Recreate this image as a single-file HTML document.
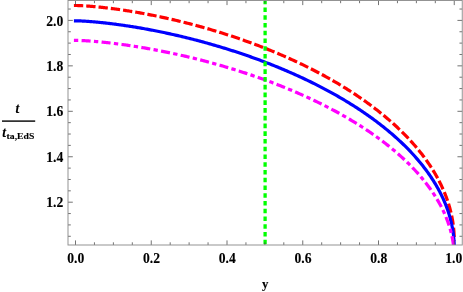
<!DOCTYPE html>
<html><head><meta charset="utf-8"><title>plot</title>
<style>
html,body{margin:0;padding:0;background:#fff;}
body{width:463px;height:292px;overflow:hidden;}
svg{display:block;}
text{font-family:"Liberation Serif",serif;font-weight:bold;font-size:13.6px;fill:#000;stroke:#000;stroke-width:0.12px;}
.tx{filter:grayscale(1);}
</style></head><body>
<svg width="463" height="292" viewBox="0 0 463 292" xmlns="http://www.w3.org/2000/svg">
<rect width="463" height="292" fill="#fff"/>
<defs><clipPath id="c"><rect x="68.0" y="0.5" width="394.25" height="244.5"/></clipPath></defs>
<g clip-path="url(#c)" fill="none" stroke-width="3.2">
<path d="M73.90,5.48 L75.50,5.48 L75.51,5.48 L75.52,5.48 L75.55,5.48 L75.59,5.48 L75.65,5.48 L75.71,5.48 L75.79,5.49 L75.88,5.49 L75.98,5.49 L76.09,5.49 L76.21,5.49 L76.34,5.49 L76.49,5.50 L76.65,5.50 L76.82,5.50 L77.00,5.51 L77.19,5.51 L77.40,5.52 L77.62,5.53 L77.84,5.53 L78.08,5.54 L78.33,5.55 L78.60,5.56 L78.87,5.57 L79.16,5.58 L79.45,5.59 L79.76,5.60 L80.08,5.62 L80.42,5.63 L80.76,5.65 L81.11,5.66 L81.48,5.68 L81.86,5.70 L82.25,5.72 L82.65,5.74 L83.06,5.77 L83.48,5.79 L83.91,5.82 L84.36,5.84 L84.81,5.87 L85.28,5.90 L85.76,5.93 L86.25,5.96 L86.75,6.00 L87.26,6.03 L87.79,6.07 L88.32,6.11 L88.86,6.15 L89.42,6.19 L89.99,6.24 L90.56,6.28 L91.15,6.33 L91.75,6.38 L92.36,6.43 L92.98,6.49 L93.61,6.54 L94.25,6.60 L94.91,6.66 L95.57,6.72 L96.24,6.78 L96.93,6.85 L97.62,6.92 L98.32,6.99 L99.04,7.06 L99.76,7.13 L100.50,7.21 L101.25,7.29 L102.00,7.37 L102.77,7.45 L103.54,7.54 L104.33,7.63 L105.12,7.72 L105.93,7.81 L106.75,7.91 L107.57,8.01 L108.41,8.11 L109.25,8.21 L110.11,8.32 L110.97,8.43 L111.84,8.54 L112.73,8.65 L113.62,8.77 L114.52,8.89 L115.43,9.01 L116.35,9.14 L117.28,9.26 L118.22,9.40 L119.17,9.53 L120.13,9.67 L121.09,9.81 L122.07,9.95 L123.05,10.10 L124.04,10.25 L125.04,10.40 L126.05,10.55 L127.07,10.71 L128.10,10.88 L129.13,11.04 L130.18,11.21 L131.23,11.38 L132.29,11.56 L133.36,11.73 L134.44,11.92 L135.52,12.10 L136.61,12.29 L137.72,12.48 L138.82,12.68 L139.94,12.87 L141.07,13.08 L142.20,13.28 L143.34,13.49 L144.48,13.70 L145.64,13.92 L146.80,14.14 L147.97,14.36 L149.15,14.59 L150.33,14.82 L151.52,15.06 L152.72,15.29 L153.93,15.54 L155.14,15.78 L156.36,16.03 L157.58,16.28 L158.81,16.54 L160.05,16.80 L161.30,17.07 L162.55,17.34 L163.81,17.61 L165.07,17.88 L166.34,18.17 L167.62,18.45 L168.90,18.74 L170.19,19.03 L171.48,19.33 L172.78,19.63 L174.09,19.93 L175.40,20.24 L176.72,20.55 L178.04,20.87 L179.37,21.19 L180.70,21.52 L182.04,21.84 L183.38,22.18 L184.73,22.52 L186.08,22.86 L187.44,23.20 L188.80,23.55 L190.17,23.91 L191.54,24.27 L192.92,24.63 L194.30,25.00 L195.69,25.37 L197.08,25.74 L198.47,26.12 L199.87,26.51 L201.27,26.90 L202.68,27.29 L204.09,27.69 L205.50,28.09 L206.92,28.50 L208.34,28.91 L209.77,29.32 L211.20,29.74 L212.63,30.17 L214.06,30.59 L215.50,31.03 L216.94,31.46 L218.39,31.91 L219.83,32.35 L221.28,32.80 L222.74,33.26 L224.19,33.72 L225.65,34.18 L227.11,34.65 L228.57,35.13 L230.03,35.60 L231.50,36.09 L232.97,36.57 L234.44,37.07 L235.91,37.56 L237.39,38.06 L238.86,38.57 L240.34,39.08 L241.82,39.59 L243.30,40.11 L244.78,40.64 L246.27,41.17 L247.75,41.70 L249.24,42.24 L250.72,42.78 L252.21,43.33 L253.70,43.88 L255.19,44.43 L256.68,45.00 L258.17,45.56 L259.66,46.13 L261.15,46.71 L262.64,47.29 L264.13,47.87 L265.62,48.46 L267.11,49.05 L268.60,49.65 L270.09,50.25 L271.58,50.86 L273.07,51.47 L274.56,52.09 L276.05,52.71 L277.54,53.34 L279.03,53.97 L280.51,54.60 L282.00,55.24 L283.48,55.89 L284.97,56.53 L286.45,57.19 L287.93,57.85 L289.41,58.51 L290.89,59.18 L292.36,59.85 L293.84,60.52 L295.31,61.21 L296.78,61.89 L298.25,62.58 L299.72,63.28 L301.18,63.98 L302.64,64.68 L304.10,65.39 L305.56,66.10 L307.01,66.82 L308.47,67.54 L309.92,68.27 L311.36,69.00 L312.81,69.73 L314.25,70.47 L315.69,71.22 L317.12,71.97 L318.55,72.72 L319.98,73.48 L321.41,74.24 L322.83,75.01 L324.25,75.78 L325.66,76.55 L327.07,77.33 L328.48,78.12 L329.88,78.91 L331.28,79.70 L332.67,80.50 L334.06,81.30 L335.45,82.10 L336.83,82.91 L338.21,83.73 L339.58,84.55 L340.95,85.37 L342.31,86.20 L343.67,87.03 L345.02,87.87 L346.37,88.71 L347.71,89.55 L349.05,90.40 L350.38,91.25 L351.71,92.11 L353.03,92.97 L354.35,93.83 L355.66,94.70 L356.97,95.57 L358.27,96.45 L359.56,97.33 L360.85,98.22 L362.13,99.11 L363.41,100.00 L364.68,100.90 L365.94,101.80 L367.20,102.70 L368.45,103.61 L369.70,104.52 L370.94,105.44 L372.17,106.36 L373.39,107.29 L374.61,108.21 L375.82,109.15 L377.03,110.08 L378.23,111.02 L379.42,111.96 L380.60,112.91 L381.78,113.86 L382.95,114.81 L384.11,115.77 L385.27,116.73 L386.41,117.70 L387.55,118.67 L388.68,119.64 L389.81,120.61 L390.93,121.59 L392.03,122.58 L393.14,123.56 L394.23,124.55 L395.31,125.54 L396.39,126.54 L397.46,127.54 L398.52,128.54 L399.57,129.55 L400.62,130.56 L401.65,131.57 L402.68,132.58 L403.70,133.60 L404.71,134.62 L405.71,135.65 L406.70,136.68 L407.68,137.71 L408.66,138.74 L409.62,139.78 L410.58,140.82 L411.53,141.86 L412.47,142.91 L413.40,143.96 L414.32,145.01 L415.23,146.07 L416.13,147.12 L417.02,148.18 L417.91,149.25 L418.78,150.31 L419.64,151.38 L420.50,152.45 L421.34,153.53 L422.18,154.60 L423.00,155.68 L423.82,156.76 L424.63,157.85 L425.42,158.93 L426.21,160.02 L426.98,161.11 L427.75,162.21 L428.50,163.30 L429.25,164.40 L429.99,165.50 L430.71,166.61 L431.43,167.71 L432.13,168.82 L432.82,169.93 L433.51,171.04 L434.18,172.16 L434.84,173.27 L435.50,174.39 L436.14,175.51 L436.77,176.63 L437.39,177.76 L438.00,178.88 L438.60,180.01 L439.19,181.14 L439.76,182.27 L440.33,183.41 L440.89,184.54 L441.43,185.68 L441.96,186.82 L442.49,187.96 L443.00,189.10 L443.50,190.24 L443.99,191.39 L444.47,192.53 L444.94,193.68 L445.39,194.83 L445.84,195.98 L446.27,197.13 L446.69,198.28 L447.10,199.44 L447.50,200.60 L447.89,201.75 L448.27,202.91 L448.64,204.07 L448.99,205.23 L449.33,206.39 L449.67,207.56 L449.99,208.72 L450.30,209.88 L450.59,211.05 L450.88,212.22 L451.15,213.38 L451.42,214.55 L451.67,215.72 L451.91,216.89 L452.13,218.06 L452.35,219.23 L452.56,220.40 L452.75,221.58 L452.93,222.75 L453.10,223.92 L453.26,225.10 L453.41,226.27 L453.54,227.45 L453.66,228.62 L453.77,229.80 L453.87,230.97 L453.96,232.15 L454.04,233.33 L454.10,234.51 L454.16,235.68 L454.20,236.86 L454.23,238.04 L454.24,239.21 L454.25,240.39" stroke="#ff0000" stroke-dasharray="9.33 3.02"/>
<path d="M73.90,20.80 L75.50,20.80 L75.51,20.80 L75.52,20.80 L75.55,20.80 L75.59,20.80 L75.65,20.80 L75.71,20.80 L75.79,20.80 L75.88,20.80 L75.98,20.80 L76.09,20.81 L76.21,20.81 L76.34,20.81 L76.49,20.81 L76.65,20.82 L76.82,20.82 L77.00,20.82 L77.19,20.83 L77.40,20.83 L77.62,20.84 L77.84,20.85 L78.08,20.85 L78.33,20.86 L78.60,20.87 L78.87,20.88 L79.16,20.89 L79.45,20.90 L79.76,20.92 L80.08,20.93 L80.42,20.94 L80.76,20.96 L81.11,20.97 L81.48,20.99 L81.86,21.01 L82.25,21.03 L82.65,21.05 L83.06,21.07 L83.48,21.10 L83.91,21.12 L84.36,21.15 L84.81,21.17 L85.28,21.20 L85.76,21.23 L86.25,21.27 L86.75,21.30 L87.26,21.33 L87.79,21.37 L88.32,21.41 L88.86,21.45 L89.42,21.49 L89.99,21.53 L90.56,21.57 L91.15,21.62 L91.75,21.67 L92.36,21.72 L92.98,21.77 L93.61,21.82 L94.25,21.88 L94.91,21.94 L95.57,22.00 L96.24,22.06 L96.93,22.12 L97.62,22.19 L98.32,22.25 L99.04,22.32 L99.76,22.40 L100.50,22.47 L101.25,22.55 L102.00,22.62 L102.77,22.70 L103.54,22.79 L104.33,22.87 L105.12,22.96 L105.93,23.05 L106.75,23.14 L107.57,23.24 L108.41,23.34 L109.25,23.44 L110.11,23.54 L110.97,23.65 L111.84,23.75 L112.73,23.86 L113.62,23.98 L114.52,24.09 L115.43,24.21 L116.35,24.33 L117.28,24.46 L118.22,24.59 L119.17,24.72 L120.13,24.85 L121.09,24.98 L122.07,25.12 L123.05,25.26 L124.04,25.41 L125.04,25.56 L126.05,25.71 L127.07,25.86 L128.10,26.02 L129.13,26.18 L130.18,26.34 L131.23,26.51 L132.29,26.67 L133.36,26.85 L134.44,27.02 L135.52,27.20 L136.61,27.38 L137.72,27.57 L138.82,27.76 L139.94,27.95 L141.07,28.15 L142.20,28.34 L143.34,28.55 L144.48,28.75 L145.64,28.96 L146.80,29.17 L147.97,29.39 L149.15,29.61 L150.33,29.83 L151.52,30.06 L152.72,30.29 L153.93,30.52 L155.14,30.76 L156.36,31.00 L157.58,31.25 L158.81,31.50 L160.05,31.75 L161.30,32.01 L162.55,32.27 L163.81,32.53 L165.07,32.80 L166.34,33.07 L167.62,33.34 L168.90,33.62 L170.19,33.91 L171.48,34.19 L172.78,34.48 L174.09,34.78 L175.40,35.08 L176.72,35.38 L178.04,35.68 L179.37,35.99 L180.70,36.31 L182.04,36.63 L183.38,36.95 L184.73,37.28 L186.08,37.61 L187.44,37.94 L188.80,38.28 L190.17,38.62 L191.54,38.97 L192.92,39.32 L194.30,39.68 L195.69,40.04 L197.08,40.40 L198.47,40.77 L199.87,41.14 L201.27,41.52 L202.68,41.90 L204.09,42.28 L205.50,42.67 L206.92,43.06 L208.34,43.46 L209.77,43.86 L211.20,44.27 L212.63,44.68 L214.06,45.09 L215.50,45.51 L216.94,45.93 L218.39,46.36 L219.83,46.79 L221.28,47.23 L222.74,47.67 L224.19,48.12 L225.65,48.56 L227.11,49.02 L228.57,49.48 L230.03,49.94 L231.50,50.41 L232.97,50.88 L234.44,51.35 L235.91,51.83 L237.39,52.32 L238.86,52.81 L240.34,53.30 L241.82,53.80 L243.30,54.30 L244.78,54.81 L246.27,55.32 L247.75,55.84 L249.24,56.36 L250.72,56.88 L252.21,57.41 L253.70,57.94 L255.19,58.48 L256.68,59.02 L258.17,59.57 L259.66,60.12 L261.15,60.68 L262.64,61.24 L264.13,61.80 L265.62,62.37 L267.11,62.95 L268.60,63.53 L270.09,64.11 L271.58,64.70 L273.07,65.29 L274.56,65.89 L276.05,66.49 L277.54,67.09 L279.03,67.70 L280.51,68.32 L282.00,68.94 L283.48,69.56 L284.97,70.19 L286.45,70.82 L287.93,71.46 L289.41,72.10 L290.89,72.74 L292.36,73.39 L293.84,74.05 L295.31,74.71 L296.78,75.37 L298.25,76.04 L299.72,76.71 L301.18,77.38 L302.64,78.07 L304.10,78.75 L305.56,79.44 L307.01,80.13 L308.47,80.83 L309.92,81.54 L311.36,82.24 L312.81,82.95 L314.25,83.67 L315.69,84.39 L317.12,85.12 L318.55,85.84 L319.98,86.58 L321.41,87.31 L322.83,88.06 L324.25,88.80 L325.66,89.55 L327.07,90.31 L328.48,91.07 L329.88,91.83 L331.28,92.60 L332.67,93.37 L334.06,94.14 L335.45,94.92 L336.83,95.71 L338.21,96.49 L339.58,97.29 L340.95,98.08 L342.31,98.88 L343.67,99.69 L345.02,100.50 L346.37,101.31 L347.71,102.13 L349.05,102.95 L350.38,103.77 L351.71,104.60 L353.03,105.43 L354.35,106.27 L355.66,107.11 L356.97,107.95 L358.27,108.80 L359.56,109.66 L360.85,110.51 L362.13,111.37 L363.41,112.24 L364.68,113.10 L365.94,113.98 L367.20,114.85 L368.45,115.73 L369.70,116.61 L370.94,117.50 L372.17,118.39 L373.39,119.28 L374.61,120.18 L375.82,121.08 L377.03,121.99 L378.23,122.90 L379.42,123.81 L380.60,124.72 L381.78,125.64 L382.95,126.57 L384.11,127.49 L385.27,128.42 L386.41,129.36 L387.55,130.29 L388.68,131.23 L389.81,132.18 L390.93,133.12 L392.03,134.07 L393.14,135.03 L394.23,135.99 L395.31,136.95 L396.39,137.91 L397.46,138.88 L398.52,139.85 L399.57,140.82 L400.62,141.79 L401.65,142.77 L402.68,143.76 L403.70,144.74 L404.71,145.73 L405.71,146.72 L406.70,147.72 L407.68,148.71 L408.66,149.71 L409.62,150.72 L410.58,151.72 L411.53,152.73 L412.47,153.75 L413.40,154.76 L414.32,155.78 L415.23,156.80 L416.13,157.82 L417.02,158.85 L417.91,159.88 L418.78,160.91 L419.64,161.94 L420.50,162.98 L421.34,164.02 L422.18,165.06 L423.00,166.10 L423.82,167.15 L424.63,168.20 L425.42,169.25 L426.21,170.30 L426.98,171.36 L427.75,172.42 L428.50,173.48 L429.25,174.54 L429.99,175.60 L430.71,176.67 L431.43,177.74 L432.13,178.81 L432.82,179.89 L433.51,180.96 L434.18,182.04 L434.84,183.12 L435.50,184.20 L436.14,185.28 L436.77,186.37 L437.39,187.46 L438.00,188.55 L438.60,189.64 L439.19,190.73 L439.76,191.83 L440.33,192.92 L440.89,194.02 L441.43,195.12 L441.96,196.22 L442.49,197.32 L443.00,198.43 L443.50,199.53 L443.99,200.64 L444.47,201.75 L444.94,202.86 L445.39,203.97 L445.84,205.09 L446.27,206.20 L446.69,207.32 L447.10,208.43 L447.50,209.55 L447.89,210.67 L448.27,211.79 L448.64,212.91 L448.99,214.04 L449.33,215.16 L449.67,216.28 L449.99,217.41 L450.30,218.54 L450.59,219.66 L450.88,220.79 L451.15,221.92 L451.42,223.05 L451.67,224.18 L451.91,225.32 L452.13,226.45 L452.35,227.58 L452.56,228.71 L452.75,229.85 L452.93,230.98 L453.10,232.12 L453.26,233.25 L453.41,234.39 L453.54,235.53 L453.66,236.66 L453.77,237.80 L453.87,238.94 L453.96,240.08 L454.04,241.22 L454.10,242.36 L454.16,243.49 L454.20,244.63 L454.23,245.77 L454.24,246.91 L454.25,248.05" stroke="#0000ff"/>
<path d="M73.90,40.34 L75.50,40.34 L75.51,40.34 L75.52,40.34 L75.55,40.34 L75.59,40.34 L75.65,40.34 L75.71,40.34 L75.79,40.35 L75.88,40.35 L75.98,40.35 L76.09,40.35 L76.21,40.35 L76.34,40.35 L76.49,40.36 L76.65,40.36 L76.82,40.36 L77.00,40.37 L77.19,40.37 L77.40,40.38 L77.62,40.38 L77.84,40.39 L78.08,40.40 L78.33,40.40 L78.60,40.41 L78.87,40.42 L79.16,40.43 L79.45,40.44 L79.76,40.45 L80.08,40.47 L80.42,40.48 L80.76,40.50 L81.11,40.51 L81.48,40.53 L81.86,40.55 L82.25,40.56 L82.65,40.58 L83.06,40.61 L83.48,40.63 L83.91,40.65 L84.36,40.68 L84.81,40.70 L85.28,40.73 L85.76,40.76 L86.25,40.79 L86.75,40.82 L87.26,40.85 L87.79,40.89 L88.32,40.92 L88.86,40.96 L89.42,41.00 L89.99,41.04 L90.56,41.08 L91.15,41.13 L91.75,41.17 L92.36,41.22 L92.98,41.27 L93.61,41.32 L94.25,41.38 L94.91,41.43 L95.57,41.49 L96.24,41.55 L96.93,41.61 L97.62,41.67 L98.32,41.73 L99.04,41.80 L99.76,41.87 L100.50,41.94 L101.25,42.01 L102.00,42.09 L102.77,42.17 L103.54,42.25 L104.33,42.33 L105.12,42.41 L105.93,42.50 L106.75,42.59 L107.57,42.68 L108.41,42.77 L109.25,42.87 L110.11,42.97 L110.97,43.07 L111.84,43.17 L112.73,43.28 L113.62,43.38 L114.52,43.50 L115.43,43.61 L116.35,43.73 L117.28,43.84 L118.22,43.97 L119.17,44.09 L120.13,44.22 L121.09,44.35 L122.07,44.48 L123.05,44.62 L124.04,44.75 L125.04,44.89 L126.05,45.04 L127.07,45.19 L128.10,45.34 L129.13,45.49 L130.18,45.64 L131.23,45.80 L132.29,45.97 L133.36,46.13 L134.44,46.30 L135.52,46.47 L136.61,46.64 L137.72,46.82 L138.82,47.00 L139.94,47.19 L141.07,47.37 L142.20,47.56 L143.34,47.76 L144.48,47.95 L145.64,48.15 L146.80,48.36 L147.97,48.56 L149.15,48.77 L150.33,48.99 L151.52,49.21 L152.72,49.43 L153.93,49.65 L155.14,49.88 L156.36,50.11 L157.58,50.34 L158.81,50.58 L160.05,50.82 L161.30,51.07 L162.55,51.32 L163.81,51.57 L165.07,51.82 L166.34,52.08 L167.62,52.35 L168.90,52.61 L170.19,52.89 L171.48,53.16 L172.78,53.44 L174.09,53.72 L175.40,54.01 L176.72,54.29 L178.04,54.59 L179.37,54.88 L180.70,55.19 L182.04,55.49 L183.38,55.80 L184.73,56.11 L186.08,56.43 L187.44,56.75 L188.80,57.07 L190.17,57.40 L191.54,57.73 L192.92,58.07 L194.30,58.41 L195.69,58.75 L197.08,59.10 L198.47,59.45 L199.87,59.81 L201.27,60.17 L202.68,60.53 L204.09,60.90 L205.50,61.27 L206.92,61.65 L208.34,62.03 L209.77,62.41 L211.20,62.80 L212.63,63.19 L214.06,63.59 L215.50,63.99 L216.94,64.40 L218.39,64.81 L219.83,65.22 L221.28,65.64 L222.74,66.06 L224.19,66.48 L225.65,66.91 L227.11,67.35 L228.57,67.79 L230.03,68.23 L231.50,68.68 L232.97,69.13 L234.44,69.58 L235.91,70.04 L237.39,70.51 L238.86,70.97 L240.34,71.45 L241.82,71.92 L243.30,72.40 L244.78,72.89 L246.27,73.38 L247.75,73.87 L249.24,74.37 L250.72,74.87 L252.21,75.38 L253.70,75.89 L255.19,76.40 L256.68,76.92 L258.17,77.45 L259.66,77.98 L261.15,78.51 L262.64,79.04 L264.13,79.59 L265.62,80.13 L267.11,80.68 L268.60,81.23 L270.09,81.79 L271.58,82.35 L273.07,82.92 L274.56,83.49 L276.05,84.07 L277.54,84.65 L279.03,85.23 L280.51,85.82 L282.00,86.41 L283.48,87.01 L284.97,87.61 L286.45,88.21 L287.93,88.82 L289.41,89.43 L290.89,90.05 L292.36,90.67 L293.84,91.30 L295.31,91.93 L296.78,92.57 L298.25,93.20 L299.72,93.85 L301.18,94.50 L302.64,95.15 L304.10,95.80 L305.56,96.46 L307.01,97.13 L308.47,97.80 L309.92,98.47 L311.36,99.14 L312.81,99.83 L314.25,100.51 L315.69,101.20 L317.12,101.89 L318.55,102.59 L319.98,103.29 L321.41,104.00 L322.83,104.71 L324.25,105.42 L325.66,106.14 L327.07,106.86 L328.48,107.59 L329.88,108.32 L331.28,109.05 L332.67,109.79 L334.06,110.53 L335.45,111.28 L336.83,112.03 L338.21,112.78 L339.58,113.54 L340.95,114.30 L342.31,115.07 L343.67,115.84 L345.02,116.61 L346.37,117.39 L347.71,118.17 L349.05,118.96 L350.38,119.75 L351.71,120.54 L353.03,121.34 L354.35,122.14 L355.66,122.94 L356.97,123.75 L358.27,124.56 L359.56,125.38 L360.85,126.20 L362.13,127.02 L363.41,127.85 L364.68,128.68 L365.94,129.51 L367.20,130.35 L368.45,131.19 L369.70,132.04 L370.94,132.88 L372.17,133.74 L373.39,134.59 L374.61,135.45 L375.82,136.31 L377.03,137.18 L378.23,138.05 L379.42,138.92 L380.60,139.80 L381.78,140.68 L382.95,141.56 L384.11,142.45 L385.27,143.34 L386.41,144.23 L387.55,145.13 L388.68,146.03 L389.81,146.93 L390.93,147.84 L392.03,148.75 L393.14,149.66 L394.23,150.58 L395.31,151.49 L396.39,152.42 L397.46,153.34 L398.52,154.27 L399.57,155.20 L400.62,156.14 L401.65,157.07 L402.68,158.01 L403.70,158.96 L404.71,159.90 L405.71,160.85 L406.70,161.80 L407.68,162.76 L408.66,163.71 L409.62,164.68 L410.58,165.64 L411.53,166.60 L412.47,167.57 L413.40,168.54 L414.32,169.52 L415.23,170.49 L416.13,171.47 L417.02,172.45 L417.91,173.44 L418.78,174.43 L419.64,175.42 L420.50,176.41 L421.34,177.40 L422.18,178.40 L423.00,179.40 L423.82,180.40 L424.63,181.40 L425.42,182.41 L426.21,183.42 L426.98,184.43 L427.75,185.44 L428.50,186.45 L429.25,187.47 L429.99,188.49 L430.71,189.51 L431.43,190.54 L432.13,191.56 L432.82,192.59 L433.51,193.62 L434.18,194.65 L434.84,195.68 L435.50,196.72 L436.14,197.75 L436.77,198.79 L437.39,199.83 L438.00,200.88 L438.60,201.92 L439.19,202.97 L439.76,204.01 L440.33,205.06 L440.89,206.11 L441.43,207.17 L441.96,208.22 L442.49,209.28 L443.00,210.33 L443.50,211.39 L443.99,212.45 L444.47,213.51 L444.94,214.58 L445.39,215.64 L445.84,216.70 L446.27,217.77 L446.69,218.84 L447.10,219.91 L447.50,220.98 L447.89,222.05 L448.27,223.12 L448.64,224.20 L448.99,225.27 L449.33,226.35 L449.67,227.42 L449.99,228.50 L450.30,229.58 L450.59,230.66 L450.88,231.74 L451.15,232.82 L451.42,233.90 L451.67,234.98 L451.91,236.06 L452.13,237.15 L452.35,238.23 L452.56,239.32 L452.75,240.40 L452.93,241.49 L453.10,242.58 L453.26,243.66 L453.41,244.75 L453.54,245.84 L453.66,246.93 L453.77,248.01 L453.87,249.10 L453.96,250.19 L454.04,251.28 L454.10,252.37 L454.16,253.46 L454.20,254.55 L454.23,255.64 L454.24,256.73 L454.25,257.82" stroke="#ff00ff" stroke-dasharray="9.05 3.33 4.35 3.33" stroke-dashoffset="12.38"/>
<line x1="265.1" y1="-0.3" x2="265.1" y2="246" stroke="#00ff00" stroke-width="3.3" stroke-dasharray="4.6 3.14"/>
</g>
<g stroke="#444" stroke-width="0.75">
<line x1="75.50" y1="245.0" x2="75.50" y2="240.40"/>
<line x1="75.50" y1="0.5" x2="75.50" y2="5.10"/>
<line x1="94.44" y1="245.0" x2="94.44" y2="242.30"/>
<line x1="94.44" y1="0.5" x2="94.44" y2="3.20"/>
<line x1="113.38" y1="245.0" x2="113.38" y2="242.30"/>
<line x1="113.38" y1="0.5" x2="113.38" y2="3.20"/>
<line x1="132.31" y1="245.0" x2="132.31" y2="242.30"/>
<line x1="132.31" y1="0.5" x2="132.31" y2="3.20"/>
<line x1="151.25" y1="245.0" x2="151.25" y2="240.40"/>
<line x1="151.25" y1="0.5" x2="151.25" y2="5.10"/>
<line x1="170.19" y1="245.0" x2="170.19" y2="242.30"/>
<line x1="170.19" y1="0.5" x2="170.19" y2="3.20"/>
<line x1="189.12" y1="245.0" x2="189.12" y2="242.30"/>
<line x1="189.12" y1="0.5" x2="189.12" y2="3.20"/>
<line x1="208.06" y1="245.0" x2="208.06" y2="242.30"/>
<line x1="208.06" y1="0.5" x2="208.06" y2="3.20"/>
<line x1="227.00" y1="245.0" x2="227.00" y2="240.40"/>
<line x1="227.00" y1="0.5" x2="227.00" y2="5.10"/>
<line x1="245.94" y1="245.0" x2="245.94" y2="242.30"/>
<line x1="245.94" y1="0.5" x2="245.94" y2="3.20"/>
<line x1="264.88" y1="245.0" x2="264.88" y2="242.30"/>
<line x1="264.88" y1="0.5" x2="264.88" y2="3.20"/>
<line x1="283.81" y1="245.0" x2="283.81" y2="242.30"/>
<line x1="283.81" y1="0.5" x2="283.81" y2="3.20"/>
<line x1="302.75" y1="245.0" x2="302.75" y2="240.40"/>
<line x1="302.75" y1="0.5" x2="302.75" y2="5.10"/>
<line x1="321.69" y1="245.0" x2="321.69" y2="242.30"/>
<line x1="321.69" y1="0.5" x2="321.69" y2="3.20"/>
<line x1="340.62" y1="245.0" x2="340.62" y2="242.30"/>
<line x1="340.62" y1="0.5" x2="340.62" y2="3.20"/>
<line x1="359.56" y1="245.0" x2="359.56" y2="242.30"/>
<line x1="359.56" y1="0.5" x2="359.56" y2="3.20"/>
<line x1="378.50" y1="245.0" x2="378.50" y2="240.40"/>
<line x1="378.50" y1="0.5" x2="378.50" y2="5.10"/>
<line x1="397.44" y1="245.0" x2="397.44" y2="242.30"/>
<line x1="397.44" y1="0.5" x2="397.44" y2="3.20"/>
<line x1="416.38" y1="245.0" x2="416.38" y2="242.30"/>
<line x1="416.38" y1="0.5" x2="416.38" y2="3.20"/>
<line x1="435.31" y1="245.0" x2="435.31" y2="242.30"/>
<line x1="435.31" y1="0.5" x2="435.31" y2="3.20"/>
<line x1="454.25" y1="245.0" x2="454.25" y2="240.40"/>
<line x1="454.25" y1="0.5" x2="454.25" y2="5.10"/>
<line x1="68.0" y1="236.29" x2="70.80" y2="236.29"/>
<line x1="462.25" y1="236.29" x2="459.45" y2="236.29"/>
<line x1="68.0" y1="224.92" x2="70.80" y2="224.92"/>
<line x1="462.25" y1="224.92" x2="459.45" y2="224.92"/>
<line x1="68.0" y1="213.56" x2="70.80" y2="213.56"/>
<line x1="462.25" y1="213.56" x2="459.45" y2="213.56"/>
<line x1="68.0" y1="202.20" x2="72.80" y2="202.20"/>
<line x1="462.25" y1="202.20" x2="457.45" y2="202.20"/>
<line x1="68.0" y1="190.84" x2="70.80" y2="190.84"/>
<line x1="462.25" y1="190.84" x2="459.45" y2="190.84"/>
<line x1="68.0" y1="179.47" x2="70.80" y2="179.47"/>
<line x1="462.25" y1="179.47" x2="459.45" y2="179.47"/>
<line x1="68.0" y1="168.11" x2="70.80" y2="168.11"/>
<line x1="462.25" y1="168.11" x2="459.45" y2="168.11"/>
<line x1="68.0" y1="156.75" x2="72.80" y2="156.75"/>
<line x1="462.25" y1="156.75" x2="457.45" y2="156.75"/>
<line x1="68.0" y1="145.39" x2="70.80" y2="145.39"/>
<line x1="462.25" y1="145.39" x2="459.45" y2="145.39"/>
<line x1="68.0" y1="134.03" x2="70.80" y2="134.03"/>
<line x1="462.25" y1="134.03" x2="459.45" y2="134.03"/>
<line x1="68.0" y1="122.66" x2="70.80" y2="122.66"/>
<line x1="462.25" y1="122.66" x2="459.45" y2="122.66"/>
<line x1="68.0" y1="111.30" x2="72.80" y2="111.30"/>
<line x1="462.25" y1="111.30" x2="457.45" y2="111.30"/>
<line x1="68.0" y1="99.94" x2="70.80" y2="99.94"/>
<line x1="462.25" y1="99.94" x2="459.45" y2="99.94"/>
<line x1="68.0" y1="88.57" x2="70.80" y2="88.57"/>
<line x1="462.25" y1="88.57" x2="459.45" y2="88.57"/>
<line x1="68.0" y1="77.21" x2="70.80" y2="77.21"/>
<line x1="462.25" y1="77.21" x2="459.45" y2="77.21"/>
<line x1="68.0" y1="65.85" x2="72.80" y2="65.85"/>
<line x1="462.25" y1="65.85" x2="457.45" y2="65.85"/>
<line x1="68.0" y1="54.49" x2="70.80" y2="54.49"/>
<line x1="462.25" y1="54.49" x2="459.45" y2="54.49"/>
<line x1="68.0" y1="43.12" x2="70.80" y2="43.12"/>
<line x1="462.25" y1="43.12" x2="459.45" y2="43.12"/>
<line x1="68.0" y1="31.76" x2="70.80" y2="31.76"/>
<line x1="462.25" y1="31.76" x2="459.45" y2="31.76"/>
<line x1="68.0" y1="20.40" x2="72.80" y2="20.40"/>
<line x1="462.25" y1="20.40" x2="457.45" y2="20.40"/>
<line x1="68.0" y1="9.04" x2="70.80" y2="9.04"/>
<line x1="462.25" y1="9.04" x2="459.45" y2="9.04"/>
</g>
<rect x="68.0" y="0.5" width="394.25" height="244.5" fill="none" stroke="#8e8e8e" stroke-width="0.95"/>
<g class="tx">
<text x="75.70" y="262.6" text-anchor="middle">0.0</text>
<text x="151.45" y="262.6" text-anchor="middle">0.2</text>
<text x="227.20" y="262.6" text-anchor="middle">0.4</text>
<text x="302.95" y="262.6" text-anchor="middle">0.6</text>
<text x="378.70" y="262.6" text-anchor="middle">0.8</text>
<text x="453.75" y="262.6" text-anchor="middle">1.0</text>
<text x="63.3" y="207.35" text-anchor="end">1.2</text>
<text x="63.3" y="161.90" text-anchor="end">1.4</text>
<text x="63.3" y="116.45" text-anchor="end">1.6</text>
<text x="63.3" y="71.00" text-anchor="end">1.8</text>
<text x="63.3" y="25.55" text-anchor="end">2.0</text>
<text x="265.1" y="287.5" text-anchor="middle" style="font-size:12.8px">y</text>
<text x="17.3" y="112.5" text-anchor="middle" font-style="italic">t</text>
<rect x="2" y="120.4" width="33.2" height="1.4" fill="#000"/>
<text x="2.2" y="136.5" font-style="italic">t</text>
<text transform="translate(6.6,139.3) scale(1.055,1)" style="font-size:9.2px">ta,EdS</text>
</g>
</svg>
</body></html>
